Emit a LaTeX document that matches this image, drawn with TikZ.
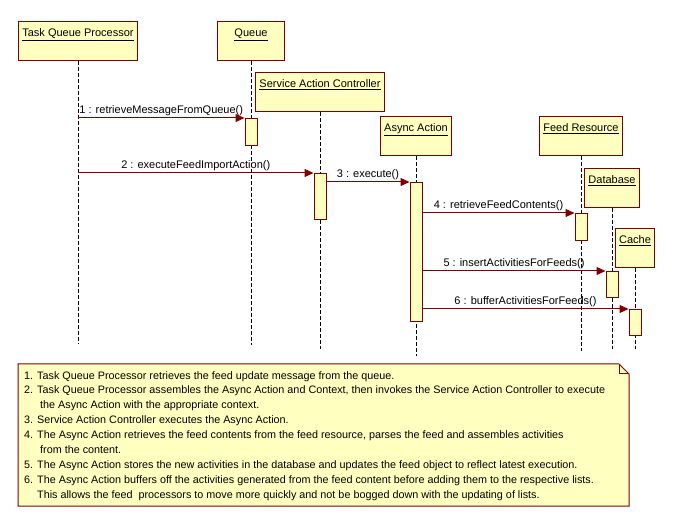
\documentclass[tikz,border=0pt]{standalone}
\usepackage{fontspec}
\setmainfont{Liberation Sans}
\usetikzlibrary{arrows.meta}
\definecolor{umlyellow}{RGB}{255,255,192}
\definecolor{umlmaroon}{RGB}{128,0,0}

\begin{document}
\begin{tikzpicture}[x=1pt, y=-1pt,
    font=\fontsize{11}{13}\selectfont,
    obj/.style={draw=umlmaroon, fill=umlyellow, line width=1pt, anchor=north, inner sep=4pt, text height=11pt, text depth=20pt},
    act/.style={draw=umlmaroon, fill=umlyellow, line width=1pt, anchor=north, minimum width=12pt, inner sep=0pt},
    life/.style={dash pattern=on 4pt off 2pt, line width=1pt},
    msg/.style={draw=umlmaroon, line width=1pt, -{Triangle[length=9pt, width=8pt]}},
    lbl/.style={above, inner sep=1.5pt}]
    \useasboundingbox (0,0) rectangle (675,526);

    % objects
    \node[obj, minimum width=116pt] (tqp) at (78,21) {\underline{Task Queue Processor}};
    \node[obj, minimum width=67pt] (queue) at (251,21) {\underline{Queue}};
    \node[obj, minimum width=128pt] (sac) at (320,72) {\underline{Service Action Controller}};
    \node[obj, minimum width=71pt] (async) at (416,116) {\underline{Async Action}};
    \node[obj, minimum width=81pt] (feed) at (581,116) {\underline{Feed Resource}};
    \node[obj, minimum width=55pt] (db) at (612,168) {\underline{Database}};
    \node[obj, minimum width=38pt] (cache) at (635,228) {\underline{Cache}};

    % lifelines
    \foreach \n/\len in {tqp/283, queue/284, sac/237, async/200, feed/195, db/141, cache/81}
        \draw[life] (\n.south) -- ++(0,\len);

    % activations
    \node[act, minimum height=27pt] (a1) at (251,118) {};
    \node[act, minimum height=46pt] (a2) at (320,173) {};
    \node[act, minimum height=139pt] (a3) at (416,182) {};
    \node[act, minimum height=27pt] (a4) at (581,213) {};
    \node[act, minimum height=26pt] (a5) at (612,271) {};
    \node[act, minimum height=26pt] (a6) at (635,309) {};

    % messages
    \draw[msg] (tqp.south |- a1.north) -- node[lbl] (m1) {1 : retrieveMessageFromQueue()} (a1.north west);
    \draw[msg] (tqp.south |- a2.north) -- node[lbl] (m2) {2 : executeFeedImportAction()} (a2.north west);
    \draw[msg] (a2.east |- a3.north) -- node[lbl] (m3) {3 : execute()} (a3.north west);
    \draw[msg] (a3.east |- a4.north) -- node[lbl] (m4) {4 : retrieveFeedContents()} (a4.north west);
    \draw[msg] (a3.east |- a5.north) -- node[lbl] (m5) {5 : insertActivitiesForFeeds()} (a5.north west);
    \draw[msg] (a3.east |- a6.north) -- node[lbl] (m6) {6 : bufferActivitiesForFeeds()} (a6.north west);

    % note
    \draw[umlmaroon, fill=umlyellow, line width=1pt] (18,364) -- (619,364) -- (629,374) -- (629,506) -- (18,506) -- cycle;
    \draw[umlmaroon, line width=1pt] (619,364) -- (619,374) -- (629,374);
    \node[anchor=north west, align=left, inner sep=0pt, font=\fontsize{10.8}{14.9}\selectfont] (note) at (24,371) {%
        1. Task Queue Processor retrieves the feed update message from the queue.\\
        2. Task Queue Processor assembles the Async Action and Context, then invokes the Service Action Controller to execute\\
        \hspace*{16pt}the Async Action with the appropriate context.\\
        3. Service Action Controller executes the Async Action.\\
        4. The Async Action retrieves the feed contents from the feed resource, parses the feed and assembles activities\\
        \hspace*{16pt}from the content.\\
        5. The Async Action stores the new activities in the database and updates the feed object to reflect latest execution.\\
        6. The Async Action buffers off the activities generated from the feed content before adding them to the respective lists.\\
        \hspace*{13pt}This allows the feed~ processors to move more quickly and not be bogged down with the updating of lists.};
\end{tikzpicture}
\end{document}
